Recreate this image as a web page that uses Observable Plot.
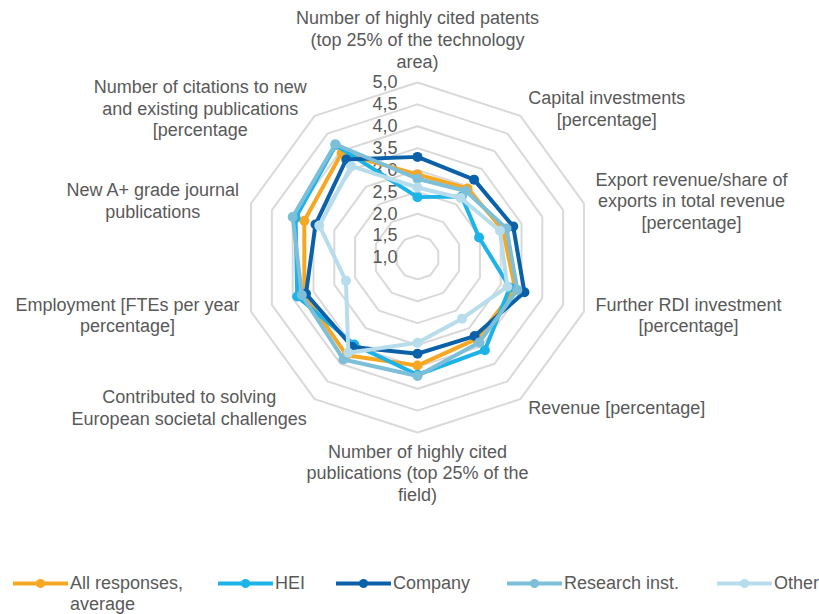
<!DOCTYPE html>
<html><head><meta charset="utf-8">
<script src="https://cdn.jsdelivr.net/npm/d3@7"></script>
<script src="https://cdn.jsdelivr.net/npm/@observablehq/plot@0.6"></script>
<style>
body{margin:0;background:#fff;font-family:"Liberation Sans",Arial,sans-serif;color:#595959;}
#legend{display:flex;align-items:flex-start;font-size:18px;line-height:21px;padding-top:8px;padding-left:13px;}
.item{display:flex;flex:none;align-items:flex-start;}
.item svg{flex:none;margin-right:2px}
.item span{white-space:nowrap}
</style></head><body><div id="chart"></div><div id="legend"></div>
<script>
// ---- data ----
const categories = [
  "Number of highly cited patents\n(top 25% of the technology\narea)",
  "Capital investments\n[percentage]",
  "Export revenue/share of\nexports in total revenue\n[percentage]",
  "Further RDI investment\n[percentage]",
  "Revenue [percentage]",
  "Number of highly cited\npublications (top 25% of the\nfield)",
  "Contributed to solving\nEuropean societal challenges",
  "Employment [FTEs per year\npercentage]",
  "New A+ grade journal\npublications",
  "Number of citations to new\nand existing publications\n[percentage"
];
const tickValues = [1.0, 1.5, 2.0, 2.5, 3.0, 3.5, 4.0, 4.5, 5.0];
const tickLabels = ["1,0", "1,5", "2,0", "2,5", "3,0", "3,5", "4,0", "4,5", "5,0"];
const seriesNames = ["All responses, average", "HEI", "Company", "Research inst.", "Other"];
const legendLabels = ["All responses,\naverage", "HEI", "Company", "Research inst.", "Other"];
const allResponses = [2.90, 2.95, 3.05, 3.35, 3.30, 3.47, 3.76, 3.72, 3.72, 3.95];
const hei          = [2.38, 2.72, 2.48, 3.22, 3.62, 3.68, 3.46, 3.89, 3.93, 4.18];
const company      = [3.30, 3.20, 3.30, 3.57, 3.22, 3.20, 3.53, 3.68, 3.45, 3.77];
const research     = [2.80, 2.88, 3.14, 3.40, 3.40, 3.71, 3.88, 3.78, 4.00, 4.20];
const other        = [2.60, 2.68, 2.98, 3.16, 2.73, 2.95, 3.69, 2.72, 3.36, 3.58];
const seriesValues = [allResponses, hei, company, research, other];
const colors = ["#f7a823", "#1cb3e8", "#0a61aa", "#7dbfd9", "#b7dceb"];
const legendItemWidths = [205, 118, 171, 210, null];

// ---- layout ----
const W = 819, H = 565, cx = 417, cy = 257, unit = 43.75, vMin = 1;
const N = categories.length;
const FONT = 18;
const ang = i => i * 2 * Math.PI / N;
const pos = (i, v) => ({x: (v - vMin) * Math.sin(ang(i)), y: (v - vMin) * Math.cos(ang(i))});

const rings = tickValues.filter(v => v > vMin).flatMap(v =>
  d3.range(N + 1).map(i => ({level: v, ...pos(i % N, v)})));

const ctx = document.createElement("canvas").getContext("2d");
ctx.font = `${FONT}px "Liberation Sans"`;
const labelR = (tickValues[tickValues.length - 1] - vMin) + 10 / unit;
const labels = categories.map((c, i) => {
  const s = Math.sin(ang(i)), k = Math.cos(ang(i));
  const w = d3.max(c.split("\n"), l => ctx.measureText(l).width);
  let x = labelR * s, y = labelR * k, kind;
  if (Math.abs(s) < 0.1) { kind = k > 0 ? "top" : "bottom"; y += (k > 0 ? 5 : 0) / unit; }
  else { kind = "side"; x += Math.sign(s) * (w / 2 + 2) / unit; }
  return {text: c, x, y, kind};
});

const marks = [
  Plot.line(rings, {x: "x", y: "y", z: "level", stroke: "#d9d9d9", strokeWidth: 2, strokeLinejoin: "miter"}),
  Plot.text(tickValues, {x: () => 0, y: v => v - vMin, text: (v, i) => tickLabels[i], textAnchor: "end", dx: -20, fill: "#595959", fontSize: FONT}),
  Plot.text(labels.filter(d => d.kind === "top"), {x: "x", y: "y", text: "text", textAnchor: "middle", lineAnchor: "bottom", lineHeight: 1.2, fill: "#595959", fontSize: FONT}),
  Plot.text(labels.filter(d => d.kind === "bottom"), {x: "x", y: "y", text: "text", textAnchor: "middle", lineAnchor: "top", lineHeight: 1.2, fill: "#595959", fontSize: FONT}),
  Plot.text(labels.filter(d => d.kind === "side"), {x: "x", y: "y", text: "text", textAnchor: "middle", lineAnchor: "middle", lineHeight: 1.2, fill: "#595959", fontSize: FONT})
];
seriesNames.forEach((name, k) => {
  const pts = d3.range(N + 1).map(i => ({series: name, ...pos(i % N, seriesValues[k][i % N])}));
  marks.push(Plot.line(pts, {x: "x", y: "y", stroke: "series", strokeWidth: 4, strokeLinejoin: "round"}));
  marks.push(Plot.dot(pts.slice(0, N), {x: "x", y: "y", fill: "series", r: 5}));
});

const chart = Plot.plot({
  width: W, height: H, margin: 0,
  x: {domain: [-cx / unit, (W - cx) / unit], range: [0, W], axis: null},
  y: {domain: [-(H - cy) / unit, cy / unit], range: [H, 0], axis: null},
  color: {domain: seriesNames, range: colors},
  style: {fontFamily: '"Liberation Sans", Arial, sans-serif', background: "#fff", overflow: "visible"},
  marks
});
document.getElementById("chart").appendChild(chart);

// ---- legend ----
const leg = document.getElementById("legend");
seriesNames.forEach((name, k) => {
  const item = document.createElement("div");
  item.className = "item";
  if (legendItemWidths[k]) item.style.width = legendItemWidths[k] + "px";
  item.innerHTML = `<svg width="55" height="21"><line x1="0" x2="55" y1="10.5" y2="10.5" stroke="${colors[k]}" stroke-width="4"/><circle cx="27.5" cy="10.5" r="4.5" fill="${colors[k]}"/></svg><span>${legendLabels[k].replace("\n", "<br>")}</span>`;
  leg.appendChild(item);
});
</script></body></html>
